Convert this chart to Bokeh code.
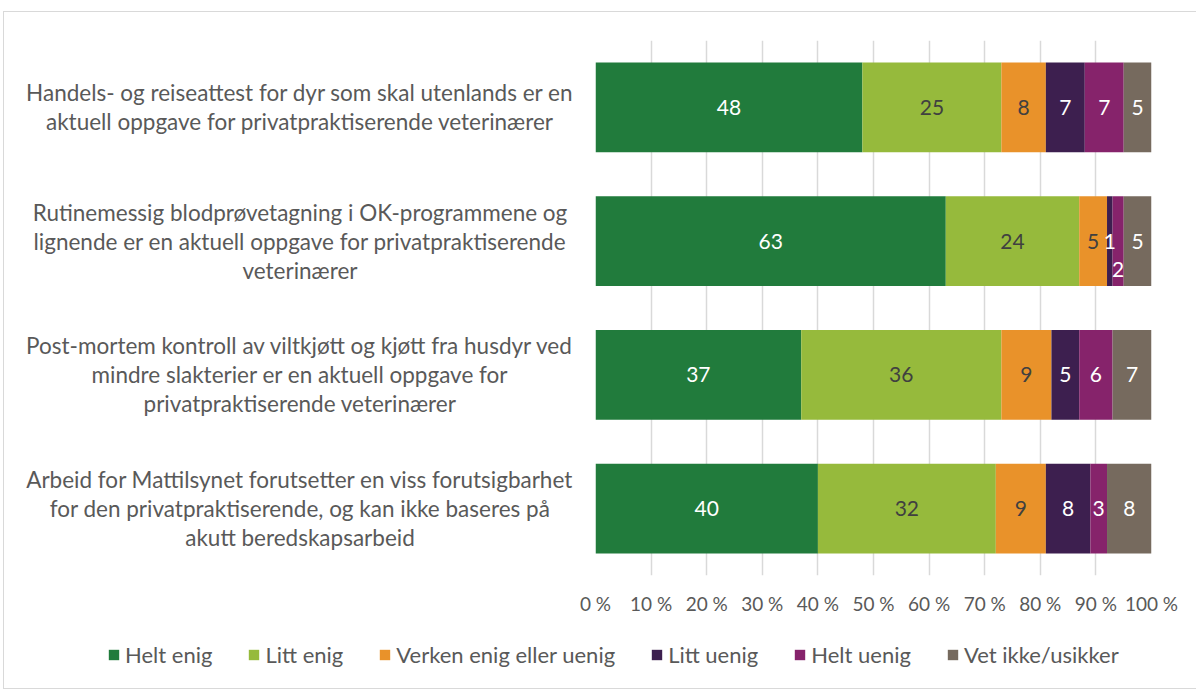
from bokeh.plotting import figure
from bokeh.models import ColumnDataSource, Legend, LegendItem, FixedTicker, FactorRange
from bokeh.layouts import row, column
from bokeh.core.properties import value
from bokeh.embed import file_html
from bokeh.resources import INLINE

# ---------------- data ----------------
keys = ["s1", "s2", "s3", "s4"]
statements = [
    "Handels- og reiseattest for dyr som skal utenlands er en\naktuell oppgave for privatpraktiserende veterinærer",
    "Rutinemessig blodprøvetagning i OK-programmene og\nlignende er en aktuell oppgave for privatpraktiserende\nveterinærer",
    "Post-mortem kontroll av viltkjøtt og kjøtt fra husdyr ved\nmindre slakterier er en aktuell oppgave for\nprivatpraktiserende veterinærer",
    "Arbeid for Mattilsynet forutsetter en viss forutsigbarhet\nfor den privatpraktiserende, og kan ikke baseres på\nakutt beredskapsarbeid",
]
series_names = ["Helt enig", "Litt enig", "Verken enig eller uenig", "Litt uenig", "Helt uenig", "Vet ikke/usikker"]
helt_enig = [48, 63, 37, 40]
litt_enig = [25, 24, 36, 32]
verken = [8, 5, 9, 9]
litt_uenig = [7, 1, 5, 8]
helt_uenig = [7, 2, 6, 3]
vet_ikke = [5, 5, 7, 8]
x_ticks = [0, 10, 20, 30, 40, 50, 60, 70, 80, 90, 100]

# ---------------- style ----------------
colors = ["#217B3C", "#96BA3C", "#E9922A", "#3D1F4F", "#86236B", "#766A5E"]
label_colors = ["#FFFFFF", "#404040", "#404040", "#FFFFFF", "#FFFFFF", "#FFFFFF"]
FONT = "Lato"
TEXT_GRAY = "#595959"
TOTAL_W = 1193
LEFT_W = 573
MAIN_PAD_L = 18
TOP_H = 608
TOP_B = 28
BOT_B = 45
LEG_H = 68


def clean(fig):
    fig.outline_line_color = None
    fig.background_fill_color = "white"
    fig.border_fill_color = "white"
    fig.grid.grid_line_color = None


cols = ["c0", "c1", "c2", "c3", "c4", "c5"]
all_series = [helt_enig, litt_enig, verken, litt_uenig, helt_uenig, vet_ikke]
data = {"y": keys}
for c, s in zip(cols, all_series):
    data[c] = s
src = ColumnDataSource(data)

y_range = FactorRange(*reversed(keys), range_padding=0)

# ---------- main bar figure ----------
p = figure(
    width=TOTAL_W - LEFT_W, height=TOP_H,
    y_range=y_range, x_range=(0, 100),
    output_backend="svg", toolbar_location=None,
    min_border_left=MAIN_PAD_L, min_border_right=46, min_border_top=TOP_B, min_border_bottom=BOT_B,
)
clean(p)
p.hbar_stack(cols, y="y", height=0.67, color=colors, source=src, line_color=None)

lx, ly, lt, lc, loff = [], [], [], [], []
for i, k in enumerate(keys):
    left = 0
    for j, s in enumerate(all_series):
        v = s[i]
        lx.append(left + v / 2)
        ly.append(k)
        lt.append(str(v))
        lc.append(label_colors[j])
        # two tiny neighbouring segments: the second label is nudged down (as in the source)
        loff.append(28 if (k == "s2" and j == 4) else 0)
        left += v
lab_src = ColumnDataSource(dict(x=lx, y=ly, text=lt, color=lc, off=loff))
p.text(x="x", y="y", text="text", source=lab_src, text_color="color",
       text_align="center", text_baseline="middle", y_offset="off",
       text_font=value(FONT), text_font_size="21px")

p.yaxis.visible = False
p.xgrid.grid_line_color = "#D9D9D9"
p.xgrid.grid_line_width = 1.5
p.xaxis.ticker = FixedTicker(ticks=x_ticks)
p.xaxis.major_label_overrides = {t: f"{t} %" for t in x_ticks}
p.xaxis.axis_line_color = None
p.xaxis.major_tick_line_color = None
p.xaxis.minor_tick_line_color = None
p.xaxis.major_label_standoff = 10
p.xaxis.major_label_text_font = FONT
p.xaxis.major_label_text_font_size = "19px"
p.xaxis.major_label_text_color = TEXT_GRAY

# ---------- left figure with the statements ----------
pl = figure(
    width=LEFT_W, height=TOP_H, y_range=y_range, x_range=(0, 1),
    output_backend="svg", toolbar_location=None,
    min_border_left=0, min_border_right=0, min_border_top=TOP_B, min_border_bottom=BOT_B,
)
clean(pl)
pl.axis.visible = False
cat_src = ColumnDataSource(dict(x=[0.5] * len(keys), y=keys, text=statements))
pl.text(x="x", y="y", text="text", source=cat_src, x_offset=9,
        text_align="center", text_baseline="middle", text_line_height=1.07,
        text_font=value(FONT), text_font_size="22.5px", text_color=TEXT_GRAY)

# ---------- legend figure (zero-height bars only carry the legend swatches) ----------
pg = figure(
    width=TOTAL_W, height=LEG_H, y_range=FactorRange(*keys), x_range=(0, 100),
    output_backend="svg", toolbar_location=None,
    min_border_left=0, min_border_right=0, min_border_top=0, min_border_bottom=0,
)
clean(pg)
pg.axis.visible = False
leg_r = pg.hbar_stack(cols, y="y", height=0, color=colors, source=src, line_color=None)
legend = Legend(
    items=[LegendItem(label=n, renderers=[r]) for n, r in zip(series_names, leg_r)],
    orientation="horizontal", location=(103, 20),
    border_line_color=None, background_fill_alpha=0,
    glyph_width=13, glyph_height=13, label_standoff=5, spacing=35,
    padding=0, margin=0,
    label_text_font=FONT, label_text_font_size="22px", label_text_color=TEXT_GRAY,
)
pg.add_layout(legend, "center")

layout = column(row(pl, p), pg,
                styles={"margin-left": "3px", "margin-top": "11px", "border": "1px solid #D9D9D9"})

open("out.html", "w").write(file_html(layout, INLINE))
